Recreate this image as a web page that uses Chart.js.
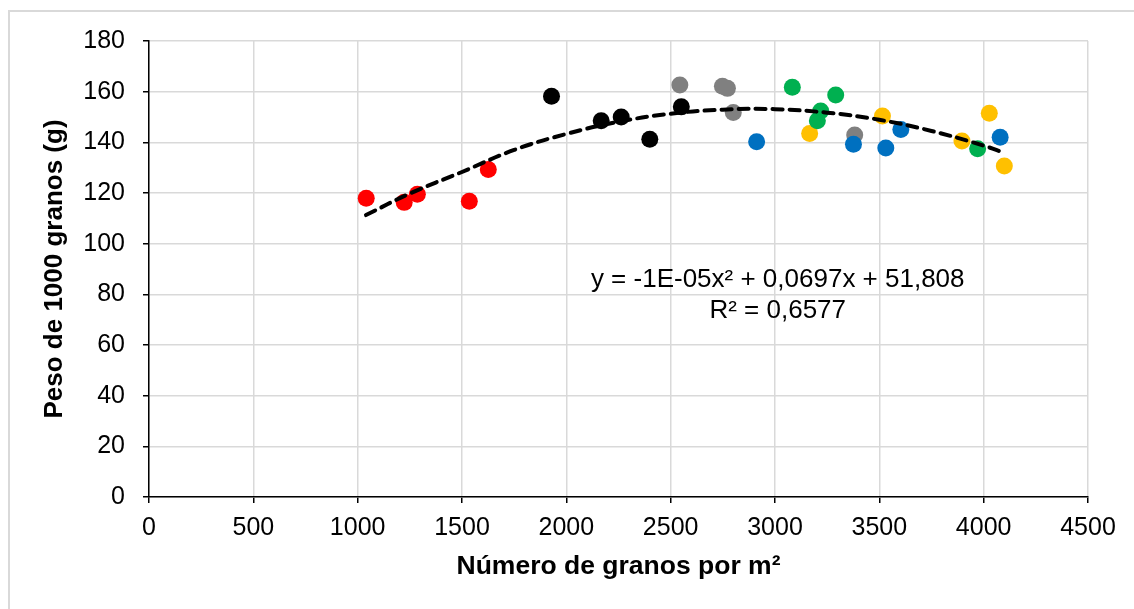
<!DOCTYPE html>
<html>
<head>
<meta charset="utf-8">
<script src="https://cdn.jsdelivr.net/npm/chart.js@4"></script>
<style>
    body { margin: 0; background: #fff; }
    #frame { position: absolute; left: 8px; top: 10px; width: 1200px; height: 700px; border-left: 2px solid #d9d9d9; border-top: 2px solid #d9d9d9; }
    #grafico { position: absolute; left: 0; top: 0; }
</style>
</head>
<body>
<div id="frame"></div>
<canvas id="grafico" width="1134" height="609"></canvas>
<script>
// Datos (x = granos por m², y = peso de 1000 granos)
const rojoX = [1041, 1223, 1286, 1535, 1626];
const rojoY = [117.9, 116.3, 119.5, 116.7, 129.3];

const negroX = [1929, 2167, 2263, 2400, 2551];
const negroY = [158.2, 148.5, 150.0, 141.2, 154.0];

const grisX = [2544, 2748, 2772, 2800, 3382];
const grisY = [162.6, 162.1, 161.3, 151.8, 142.9];

const azulX = [2912, 3376, 3531, 3603, 4079];
const azulY = [140.2, 139.2, 137.8, 145.1, 142.0];

const verdeX = [3083, 3291, 3219, 3203, 3971];
const verdeY = [161.7, 158.7, 152.4, 148.5, 137.5];

const amarilloX = [3166, 3515, 3896, 4027, 4099];
const amarilloY = [143.5, 150.4, 140.5, 151.5, 130.7];

// Línea de tendencia polinómica
const tendenciaX = [1040, 1250, 1500, 1750, 2000, 2250, 2500, 2750, 3000, 3250, 3500, 3750, 4000, 4100];
const tendenciaY = [111.3, 119.8, 128.3, 137.0, 143.3, 148.1, 151.3, 152.9, 153.1, 151.7, 148.9, 144.5, 138.7, 135.8];

const ecuacion = ['y = -1E-05x\u00B2 + 0,0697x + 51,808', 'R\u00B2 = 0,6577'];

const tituloX = 'Número de granos por m\u00B2';
const tituloY = 'Peso de 1000 granos (g)';

const FONT = '"Liberation Sans", Arial, sans-serif';

function toPoints(xs, ys) {
    return xs.map((x, i) => ({ x: x, y: ys[i] }));
}

function serie(label, xs, ys, color) {
    return {
        label: label,
        data: toPoints(xs, ys),
        backgroundColor: color,
        borderWidth: 0,
        pointRadius: 8.5,
        pointHoverRadius: 8.5
    };
}

// Texto de la ecuación sobre el área del gráfico
const ecuacionPlugin = {
    id: 'ecuacion',
    afterDatasetsDraw(chart) {
        const ctx = chart.ctx;
        const xs = chart.scales.x;
        const ys = chart.scales.y;
        ctx.save();
        ctx.font = '26px ' + FONT;
        ctx.fillStyle = '#000';
        ctx.textAlign = 'center';
        ctx.textBaseline = 'middle';
        ctx.fillText(ecuacion[0], xs.getPixelForValue(3013), ys.getPixelForValue(85.6));
        ctx.fillText(ecuacion[1], xs.getPixelForValue(3013), ys.getPixelForValue(73.4));
        ctx.restore();
    }
};

const ctx = document.getElementById('grafico').getContext('2d');
new Chart(ctx, {
    type: 'scatter',
    data: {
        datasets: [
            {
                label: 'Polinómica',
                type: 'line',
                data: toPoints(tendenciaX, tendenciaY),
                borderColor: '#000',
                borderWidth: 4,
                borderDash: [10, 7],
                borderCapStyle: 'round',
                pointRadius: 0,
                tension: 0.4,
                fill: false
            },
            serie('Azul', azulX, azulY, '#0070C0'),
            serie('Verde', verdeX, verdeY, '#00B050'),
            serie('Amarillo', amarilloX, amarilloY, '#FFC000'),
            serie('Gris', grisX, grisY, '#808080'),
            serie('Negro', negroX, negroY, '#000000'),
            serie('Rojo', rojoX, rojoY, '#FF0000')
        ]
    },
    options: {
        responsive: false,
        animation: false,
        layout: {
            padding: { left: 0, top: 41, right: 46, bottom: 0 }
        },
        plugins: {
            legend: { display: false },
            tooltip: { enabled: false }
        },
        scales: {
            x: {
                type: 'linear',
                min: 0,
                max: 4500,
                afterFit: (scale) => { scale.height = 112; },
                ticks: {
                    stepSize: 500,
                    color: '#000',
                    padding: 10,
                    maxRotation: 0,
                    callback: (v) => String(v),
                    font: { family: FONT, size: 25 }
                },
                grid: {
                    color: '#d9d9d9',
                    lineWidth: 1.5,
                    tickColor: '#000',
                    tickLength: 6
                },
                border: { color: '#000', width: 1.5 },
                title: {
                    display: true,
                    text: tituloX,
                    color: '#000',
                    padding: { top: 0, bottom: 26 },
                    font: { family: FONT, size: 26.5, weight: 'bold' }
                }
            },
            y: {
                min: 0,
                max: 180,
                afterFit: (scale) => { scale.width = 149; },
                ticks: {
                    stepSize: 20,
                    color: '#000',
                    padding: 18,
                    font: { family: FONT, size: 25 }
                },
                grid: {
                    color: '#d9d9d9',
                    lineWidth: 1.5,
                    tickColor: '#000',
                    tickLength: 6
                },
                border: { color: '#000', width: 1.5 },
                title: {
                    display: true,
                    text: tituloY,
                    color: '#000',
                    padding: { top: 39, bottom: 0 },
                    font: { family: FONT, size: 26, weight: 'bold' }
                }
            }
        }
    },
    plugins: [ecuacionPlugin]
});
</script>
</body>
</html>
